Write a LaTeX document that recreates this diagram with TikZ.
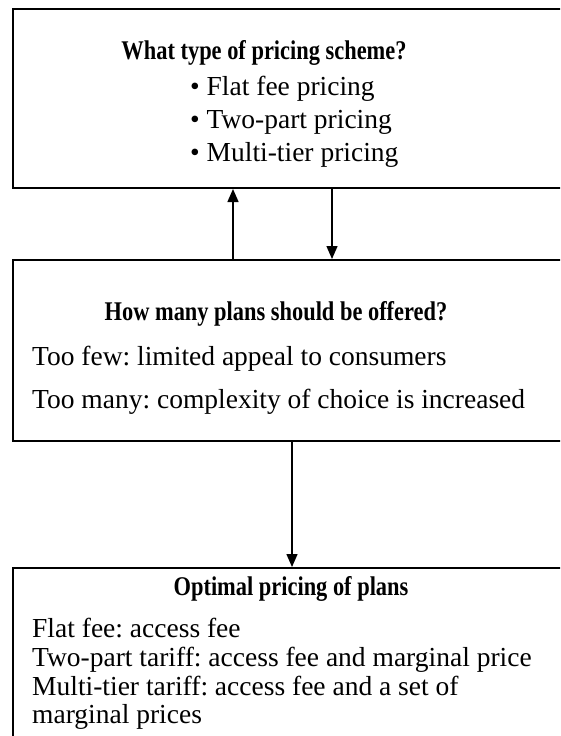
\documentclass[tikz,border=0pt]{standalone}
\usepackage{fontspec}
\usepackage{graphicx}
\setmainfont{Liberation Serif}
\usetikzlibrary{arrows.meta}
\frenchspacing
\newcommand{\narrowtitle}[1]{\scalebox{0.83}[1]{#1}}
\begin{document}
\begin{tikzpicture}[x=1pt,y=-1pt,
  boxnode/.style={draw, line width=2pt, rectangle, anchor=north west, inner sep=0pt, minimum width=600pt},
  conn/.style={line width=1.4pt, -{Triangle[length=13pt,width=11pt]}},
  titletext/.style={font=\fontsize{27}{31}\selectfont\bfseries, inner sep=0pt, anchor=base},
  bodytext/.style={font=\fontsize{27.5}{31}\selectfont, inner sep=0pt, anchor=base west}]
\useasboundingbox (0,0) rectangle (560,736);
\fill[white] (0,0) rectangle (560,736);
\clip (0,0) rectangle (560,736);
% boxes
\node[boxnode, minimum height=179pt] (b1) at (12,8) {};
\node[boxnode, minimum height=181pt] (b2) at (12,259) {};
\node[boxnode, minimum height=200pt] (b3) at (12,567) {};
% box 1 text
\node[titletext] (t1) at (264,59) {\narrowtitle{What type of pricing scheme?}};
\node[bodytext] (l11) at (190,95) {\textbullet\ Flat fee pricing};
\node[bodytext] (l12) at (190,128) {\textbullet\ Two-part pricing};
\node[bodytext] (l13) at (190,161) {\textbullet\ Multi-tier pricing};
% box 2 text
\node[titletext] (t2) at (276,320) {\narrowtitle{How many plans should be offered?}};
\node[bodytext] (l21) at (32,365) {Too few: limited appeal to consumers};
\node[bodytext] (l22) at (32,408) {Too many: complexity of choice is increased};
% box 3 text
\node[titletext] (t3) at (291,595) {\narrowtitle{Optimal pricing of plans}};
\node[bodytext] (l31) at (32,637) {Flat fee: access fee};
\node[bodytext] (l32) at (32,666) {Two-part tariff: access fee and marginal price};
\node[bodytext] (l33) at (32,695) {Multi-tier tariff: access fee and a set of};
\node[bodytext] (l34) at (32,723) {marginal prices};
% connectors
\coordinate (upx) at (233,0);
\coordinate (downx) at (332,0);
\coordinate (midx) at (292,0);
\draw[conn] (b2.north -| upx) -- (b1.south -| upx);
\draw[conn] (b1.south -| downx) -- (b2.north -| downx);
\draw[conn] (b2.south -| midx) -- (b3.north -| midx);
\end{tikzpicture}
\end{document}
